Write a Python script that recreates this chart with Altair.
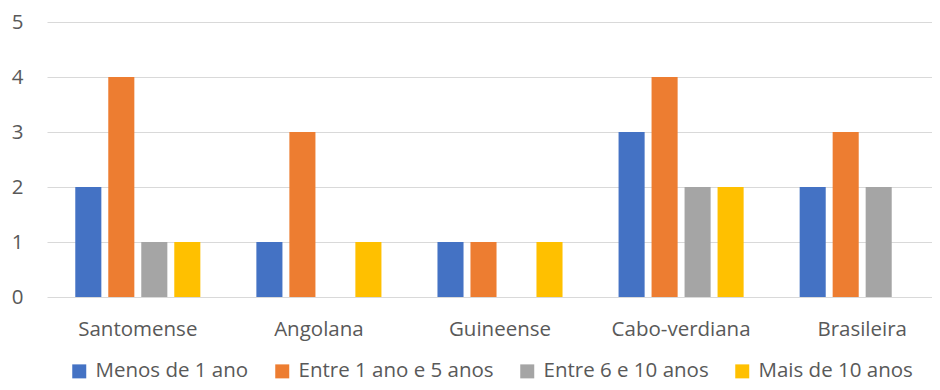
import altair as alt
import pandas as pd

categories = ["Santomense", "Angolana", "Guineense", "Cabo-verdiana", "Brasileira"]
series = ["Menos de 1 ano", "Entre 1 ano e 5 anos", "Entre 6 e 10 anos", "Mais de 10 anos"]
values = {
    "Menos de 1 ano": [2, 1, 1, 3, 2],
    "Entre 1 ano e 5 anos": [4, 3, 1, 4, 3],
    "Entre 6 e 10 anos": [1, 0, 0, 2, 2],
    "Mais de 10 anos": [1, 1, 1, 2, 0],
}
colors = ["#4472C4", "#ED7D31", "#A5A5A5", "#FFC000"]

rows = []
for s in series:
    for c, v in zip(categories, values[s]):
        rows.append({"Nacionalidade": c, "Serie": s, "Valor": v})
df = pd.DataFrame(rows)

FONT = "Open Sans"
TXT = "#595959"

chart = alt.Chart(df).mark_bar().encode(
    x=alt.X("Nacionalidade:N", sort=categories, title=None,
            scale=alt.Scale(range=[0, 906], paddingInner=0.2711, paddingOuter=0.137),
            axis=alt.Axis(labelAngle=0, domain=False, ticks=False, labelPadding=22,
                          labelFontSize=20.5, labelColor=TXT, labelFont=FONT, grid=False,
                          labelLimit=0)),
    xOffset=alt.XOffset("Serie:N", sort=series,
                        scale=alt.Scale(paddingInner=0.21, paddingOuter=0.105)),
    y=alt.Y("Valor:Q", title=None,
            scale=alt.Scale(domain=[0, 5], nice=False),
            axis=alt.Axis(values=[0, 1, 2, 3, 4, 5], domain=False, ticks=False,
                          labelPadding=24, labelFontSize=20.5, labelColor=TXT, labelFont=FONT,
                          gridColor="#D9D9D9", gridWidth=1)),
    color=alt.Color("Serie:N", sort=series, title=None,
                    scale=alt.Scale(domain=series, range=colors),
                    legend=alt.Legend(orient="none", legendX=22, legendY=339,
                                      direction="horizontal",
                                      symbolType="square", symbolSize=196,
                                      symbolStrokeWidth=0, labelFontSize=20.5,
                                      labelColor=TXT, labelFont=FONT, labelLimit=0,
                                      columnPadding=23, labelOffset=6)),
).properties(
    width=885, height=275,
    autosize=alt.AutoSizeParams(type="none"),
    padding={"left": 39, "top": 14, "right": 0, "bottom": 85},
).configure_view(stroke=None)

chart.save("out.html", embed_options={"renderer": "svg", "actions": False})
